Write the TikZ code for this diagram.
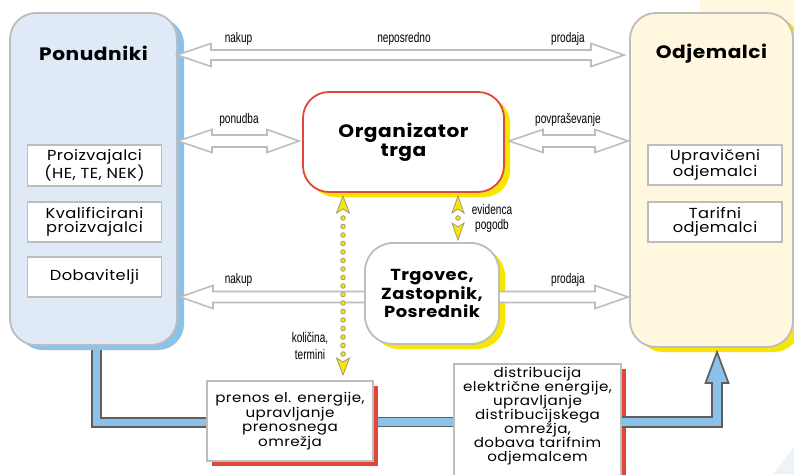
\documentclass[tikz,border=0pt]{standalone}
\usepackage{fontspec}
\setmainfont{Poppins}[FakeStretch=1.12, LetterSpace=3]
\newfontfamily\labfont[FakeStretch=0.72]{Liberation Sans}
\usetikzlibrary{shadows,calc}
\definecolor{bgray}{HTML}{BDBDBD}
\definecolor{ponfill}{HTML}{DFEAF6}
\definecolor{ponshadow}{HTML}{8CC1EA}
\definecolor{pipeblue}{HTML}{8CC1EA}
\definecolor{odjfill}{HTML}{FFF7DE}
\definecolor{yel}{HTML}{F7E600}
\definecolor{redc}{HTML}{E2463A}
\definecolor{pipeedge}{HTML}{5E5E5E}
\definecolor{dotedge}{HTML}{9A9A80}
\definecolor{cornerblue}{HTML}{EEF3FA}
\pgfdeclarelayer{back}
\pgfdeclarelayer{bg}
\pgfsetlayers{back,bg,main}
\begin{document}
\begin{tikzpicture}[x=1pt,y=-1pt,
  bigbox/.style={draw=bgray, line width=1.8pt, rounded corners=26pt, outer sep=0pt, inner sep=0pt},
  innerbox/.style={draw=bgray, line width=1.8pt, fill=white, minimum width=134pt, minimum height=40pt, align=center, inner sep=0pt, outer sep=0pt, font=\fontsize{14.5}{14.5}\selectfont},
  boxtitle/.style={font=\bfseries\fontsize{18}{19}\selectfont, inner sep=0pt},
  lab/.style={font=\labfont\fontsize{14}{15.5}\selectfont, inner sep=0pt, anchor=base},
  hollow/.style={draw=bgray, line width=1.6pt, fill=white, line join=miter},
  pipe/.style={draw=pipeedge, line width=1.7pt, double=pipeblue, double distance=7.5pt, line join=miter},
  pipeout/.style={draw=pipeedge, line width=1.7pt, line join=miter},
  yhead/.style={fill=yel, draw=dotedge, line width=0.8pt, line join=miter},
  ydot/.style={fill=yel, draw=dotedge, line width=0.8pt},
  ysh/.style={drop shadow={shadow xshift=6pt, shadow yshift=-5pt, fill=yel, opacity=1}},
  rsh/.style={drop shadow={shadow xshift=5pt, shadow yshift=-5pt, fill=redc, opacity=1}},
]
\clip (0,0) rectangle (794,474);
\begin{pgfonlayer}{back}
\fill[white] (0,0) rectangle (794,474);
\fill[odjfill] (700,0) rectangle (794,40);
\fill[cornerblue] (773,474) -- (794,447) -- (794,474) -- cycle;
\end{pgfonlayer}

% main boxes
\node[bigbox, fill=ponfill, minimum width=167pt, minimum height=332pt,
  drop shadow={shadow xshift=7pt, shadow yshift=-5pt, fill=ponshadow, opacity=1}] (pon) at (93.5,179) {};
\node[bigbox, fill=odjfill, minimum width=163pt, minimum height=334pt,
  drop shadow={shadow xshift=7pt, shadow yshift=-5pt, fill=yel, opacity=1}] (odj) at (711.5,180) {};
\node[boxtitle] (ponT) at (93.5,53.5) {Ponudniki};
\node[boxtitle] (odjT) at (711.5,53.5) {Odjemalci};

\node[innerbox, minimum height=41pt] (p1) at (94.5,165.5) {Proizvajalci\\(HE, TE, NEK)};
\node[innerbox] (p2) at (94.5,222) {Kvalificirani\\proizvajalci};
\node[innerbox] (p3) at (94.5,277) {Dobavitelji};
\node[innerbox] (o1) at (715,165) {Upravičeni\\odjemalci};
\node[innerbox] (o2) at (715,222) {Tarifni\\odjemalci};

\node[draw=redc, line width=1.8pt, fill=white, rounded corners=26pt, minimum width=201pt, minimum height=100pt,
  outer sep=0pt, inner sep=0pt, align=center, font=\bfseries\fontsize{18}{19}\selectfont, ysh] (org) at (403.5,142) {Organizator\\trga};
\node[draw=bgray, line width=1.8pt, fill=white, rounded corners=28pt, minimum width=134pt, minimum height=101pt,
  outer sep=0pt, inner sep=0pt, align=center, font=\bfseries\fontsize{16}{15.5}\selectfont, ysh] (trg) at (432,293.5) {Trgovec,\\Zastopnik,\\Posrednik};

\node[draw=bgray, line width=1.8pt, fill=white, minimum width=166pt, minimum height=80pt, outer sep=0pt, inner sep=0pt,
  align=center, font=\fontsize{13.5}{14.5}\selectfont, rsh] (prenos) at (290,421) {prenos el. energije,\\upravljanje\\prenosnega\\omrežja};
\node[draw=bgray, line width=1.8pt, fill=white, minimum width=167pt, minimum height=118pt, outer sep=0pt, inner sep=0pt, rsh] (dist) at (537.5,423) {};
\node[align=center, font=\fontsize{13.5}{14}\selectfont, inner sep=0pt] (distT) at (537.5,416) {distribucija\\električne energije,\\upravljanje\\distribucijskega\\omrežja,\\dobava tarifnim\\odjemalcem};

% pipes
\begin{pgfonlayer}{bg}
\draw[pipe] ([xshift=3pt]pon.south) |- ([yshift=-1.5pt]prenos.west);
\draw[pipe] ([yshift=-1pt]prenos.east) -- ([yshift=-1pt]prenos.east -| dist.west);
\end{pgfonlayer}
\coordinate (arTip) at ($(odj.south)+(5.5,5)$);
\fill[pipeblue] ($(dist.east)+(0,-6)$) -- ($(dist.east)+(91,-6)$) |- ($(arTip)+(-11.5,31)$) -- (arTip) -- ($(arTip)+(11.5,31)$) -| ($(dist.east)+(101,4)$) -- ($(dist.east)+(0,4)$) -- cycle;
\draw[pipeout] ($(dist.east)+(1,-6)$) -- ($(dist.east)+(91,-6)$) |- ($(arTip)+(-11.5,31)$) -- (arTip) -- ($(arTip)+(11.5,31)$) -| ($(dist.east)+(101,4)$) -- ($(dist.east)+(1,4)$);

% hollow arrows
\coordinate (yTop) at (0,55);
\coordinate (yBot) at (0,297);
\coordinate (aL) at (pon.east |- yTop);
\coordinate (aR) at ($(odj.west |- yTop)+(-6,0)$);
\draw[hollow] (aL) -- ++(34,-11.5) -- ++(0,6.5) -- ($(aR)+(-33,-5)$) -- ++(0,-6.5) -- (aR) -- ++(-33,11.5) -- ++(0,-6.5) -- ($(aL)+(34,5)$) -- ++(0,6.5) -- cycle;
\coordinate (bL) at ($(pon.east |- org.west)+(1,-1)$);
\coordinate (bR) at ($(org.west)+(-4,-1)$);
\draw[hollow] (bL) -- ++(34,-11.5) -- ++(0,5.5) -- ($(bR)+(-32,-6)$) -- ++(0,-5.5) -- (bR) -- ++(-32,11.5) -- ++(0,-5.5) -- ($(bL)+(34,6)$) -- ++(0,5.5) -- cycle;
\coordinate (cL) at ($(org.east)+(5,-1)$);
\coordinate (cR) at ($(odj.west |- org.east)+(-2,-1)$);
\draw[hollow] (cL) -- ++(34,-11.5) -- ++(0,5.5) -- ($(cR)+(-33,-6)$) -- ++(0,-5.5) -- (cR) -- ++(-33,11.5) -- ++(0,-5.5) -- ($(cL)+(34,6)$) -- ++(0,5.5) -- cycle;
\coordinate (dL) at ($(pon.east |- yBot)+(3,0)$);
\draw[hollow] (dL) -- ++(33,-11.5) -- ++(0,6) -- ($(trg.west |- yBot)+(0,-5.5)$) -- ($(trg.west |- yBot)+(0,5.5)$) -- ($(dL)+(33,5.5)$) -- ++(0,6) -- cycle;
\coordinate (eR) at ($(odj.west |- yBot)+(-2,0)$);
\draw[hollow] (eR) -- ++(-33,-11.5) -- ++(0,6) -- ($(trg.east |- yBot)+(0,-5.5)$) -- ($(trg.east |- yBot)+(0,5.5)$) -- ($(eR)+(-33,5.5)$) -- ++(0,6) -- cycle;

% labels
\node[lab] (l1) at (238.5,42) {nakup};
\node[lab] (l2) at (404,42) {neposredno};
\node[lab] (l3) at (568,42) {prodaja};
\node[lab] (l4) at (239,123) {ponudba};
\node[lab] (l5) at (568,123) {povpraševanje};
\node[lab] (l6) at (238.5,283) {nakup};
\node[lab] (l7) at (568,283) {prodaja};
\node[font=\labfont\fontsize{14}{17}\selectfont, align=center, inner sep=0pt] (l8) at (310,346) {količina,\\termini};
\node[font=\labfont\fontsize{14}{15}\selectfont, align=center, inner sep=0pt] (l9) at (492,218) {evidenca\\pogodb};

% yellow dotted arrows
\coordinate (kT) at ($(org.south)+(-60.5,4)$);
\coordinate (kB) at ($(prenos.north)+(53,-6)$);
\foreach \i in {0,...,16} \filldraw[ydot] ($(kT)+(0,22+\i*8.5)$) circle (2.3);
\filldraw[yhead] (kT) -- ++(6.5,17) -- ++(-6.5,-4) -- ++(-6.5,4) -- cycle;
\filldraw[yhead] (kB) -- ++(6.5,-17) -- ++(-6.5,4) -- ++(-6.5,-4) -- cycle;
\coordinate (eT) at ($(org.south)+(54.5,4)$);
\coordinate (eB) at ($(trg.north)+(26,-3)$);
\filldraw[ydot] ($(eT)+(0,22)$) circle (2.3);
\filldraw[yhead] (eT) -- ++(6,17) -- ++(-6,-4) -- ++(-6,4) -- cycle;
\filldraw[yhead] (eB) -- ++(6,-17) -- ++(-6,4) -- ++(-6,-4) -- cycle;
\end{tikzpicture}
\end{document}
